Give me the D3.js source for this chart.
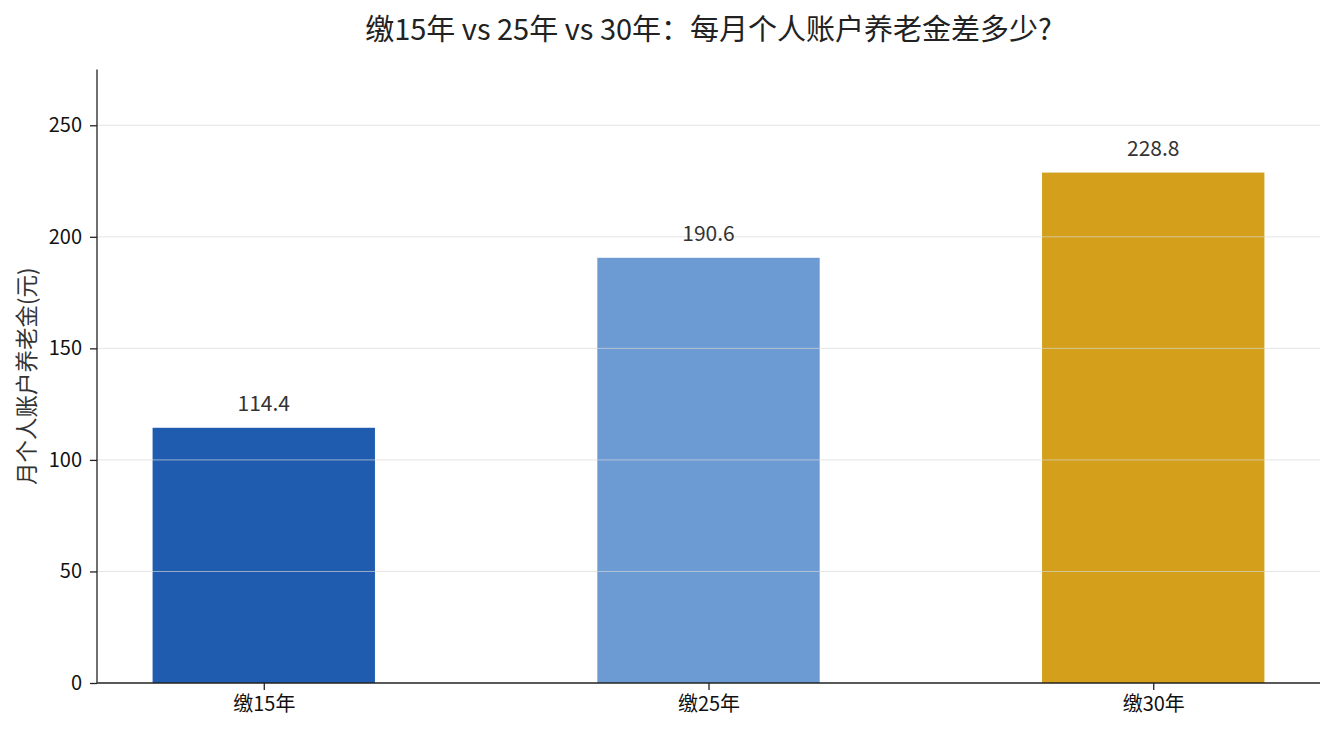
<!DOCTYPE html>
<html>
<head>
<meta charset="utf-8">
<script src="https://cdn.jsdelivr.net/npm/d3@7"></script>
<style>
  body { margin: 0; background: #fff; }
  text { font-family: "Noto Sans CJK SC", "Noto Sans", sans-serif; }
</style>
</head>
<body>
<div id="chart"></div>
<script>
var categories = ['缴15年', '缴25年', '缴30年'];
var values = [114.4, 190.6, 228.8];
var barColors = ['#1f5baf', '#6b9bd2', '#d4a01c'];
var yTicks = [0, 50, 100, 150, 200, 250];

var width = 1335, height = 735;
var margin = {top: 69.5, right: 15, bottom: 52, left: 97};
var innerW = width - margin.left - margin.right;
var innerH = height - margin.top - margin.bottom;

var svg = d3.select('#chart').append('svg')
  .attr('width', width)
  .attr('height', height);

var g = svg.append('g')
  .attr('transform', 'translate(' + margin.left + ',' + margin.top + ')');

// matplotlib-like: bar width 0.5, 5% margins
var x = d3.scaleLinear()
  .domain([-0.375, categories.length - 1 + 0.375])
  .range([0, innerW]);
var y = d3.scaleLinear()
  .domain([0, 275])
  .range([innerH, 0]);

var data = categories.map(function(c, i) {
  return {category: c, value: values[i], idx: i};
});

g.selectAll('rect.bar')
  .data(data)
  .enter()
  .append('rect')
  .attr('class', 'bar')
  .attr('x', function(d) { return x(d.idx - 0.25); })
  .attr('width', function(d) { return x(d.idx + 0.25) - x(d.idx - 0.25); })
  .attr('y', function(d) { return y(d.value); })
  .attr('height', function(d) { return innerH - y(d.value); })
  .attr('fill', function(d, i) { return barColors[i]; });

// grid on top of bars
g.selectAll('line.grid')
  .data(yTicks.slice(1))
  .enter()
  .append('line')
  .attr('class', 'grid')
  .attr('x1', 0)
  .attr('x2', innerW)
  .attr('y1', function(d) { return y(d); })
  .attr('y2', function(d) { return y(d); })
  .attr('stroke', '#d6d6d6')
  .attr('stroke-opacity', 0.75)
  .attr('stroke-width', 0.9);

g.selectAll('text.val')
  .data(data)
  .enter()
  .append('text')
  .attr('class', 'val')
  .attr('x', function(d) { return x(d.idx); })
  .attr('y', function(d) { return y(d.value) - 17; })
  .attr('text-anchor', 'middle')
  .attr('font-size', 21)
  .attr('fill', '#333')
  .text(function(d) { return d.value.toFixed(1); });

var yAxis = d3.axisLeft(y).tickValues(yTicks).tickSize(7).tickPadding(8);
var yg = g.append('g').call(yAxis);

var xAxis = d3.axisBottom(x).tickValues(d3.range(categories.length))
  .tickFormat(function(i) { return categories[i]; })
  .tickSize(7).tickPadding(7);
var xg = g.append('g')
  .attr('transform', 'translate(0,' + innerH + ')')
  .call(xAxis);

[yg, xg].forEach(function(a) {
  a.select('.domain').attr('stroke', '#222').attr('stroke-width', 1.3);
  a.selectAll('.tick line').attr('stroke', '#222').attr('stroke-width', 1.3);
  a.selectAll('.tick text').attr('font-size', 20).attr('fill', '#111')
    .attr('font-family', '"Noto Sans CJK SC", sans-serif');
});
// flat ends like matplotlib spines
yg.select('.domain').attr('d', 'M0,' + innerH + 'V0');
xg.select('.domain').attr('d', 'M0,0H' + innerW);

svg.append('text')
  .attr('x', margin.left + innerW / 2)
  .attr('y', 40)
  .attr('text-anchor', 'middle')
  .attr('font-size', 29)
  .attr('fill', '#222')
  .text('缴15年 vs 25年 vs 30年：每月个人账户养老金差多少?');

svg.append('text')
  .attr('transform', 'translate(35,' + (margin.top + innerH / 2) + ') rotate(-90)')
  .attr('text-anchor', 'middle')
  .attr('font-size', 22.5)
  .attr('fill', '#333')
  .text('月个人账户养老金(元)');
</script>
</body>
</html>
